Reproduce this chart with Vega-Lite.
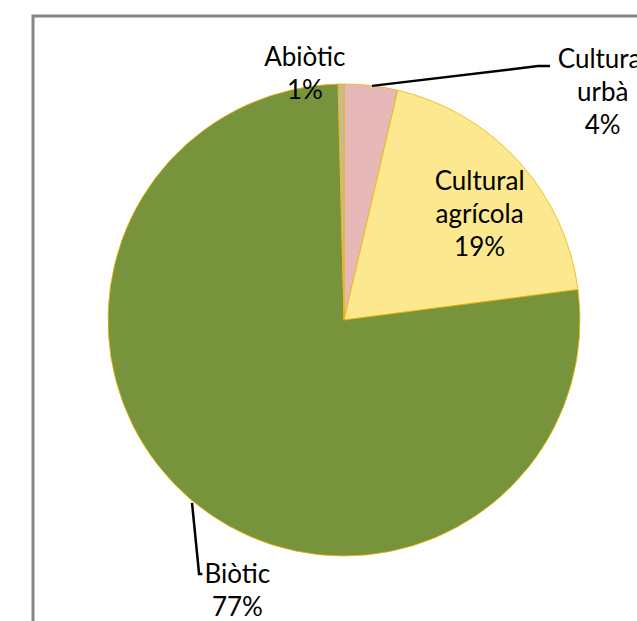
{
  "$schema": "https://vega.github.io/schema/vega-lite/v6.json",
  "width": 622,
  "height": 608,
  "autosize": {"type": "none"},
  "padding": {"left": 33, "top": 16, "right": 0, "bottom": 0},
  "background": "white",
  "config": {
    "view": {"stroke": "#868686", "strokeWidth": 3},
    "text": {"font": "Lato", "fontSize": 26, "color": "#000000"}
  },
  "datasets": {
    "slices": [
      {"cat": "Cultural urbà", "value": 3.66, "order": 1, "label": "Cultural\nurbà\n4%"},
      {"cat": "Cultural agrícola", "value": 19.28, "order": 2, "label": "Cultural\nagrícola\n19%"},
      {"cat": "Biòtic", "value": 76.66, "order": 3, "label": "Biòtic\n77%"},
      {"cat": "Abiòtic", "value": 0.4, "order": 4, "label": "Abiòtic\n1%"}
    ],
    "leaders": [
      {"line": "urba", "i": 1, "px": 0.119, "py": 0.992},
      {"line": "urba", "i": 2, "px": 0.822, "py": 1.076},
      {"line": "urba", "i": 3, "px": 0.873, "py": 1.076},
      {"line": "biotic", "i": 1, "px": -0.644, "py": -0.775},
      {"line": "biotic", "i": 2, "px": -0.614, "py": -1.076},
      {"line": "biotic", "i": 3, "px": -0.600, "py": -1.076}
    ]
  },
  "data": {"name": "slices"},
  "encoding": {
    "theta": {"field": "value", "type": "quantitative", "stack": true, "scale": {"domain": [0, 100]}},
    "order": {"field": "order", "type": "quantitative"}
  },
  "layer": [
    {
      "mark": {"type": "arc", "outerRadius": 236, "stroke": "#F0B400", "strokeWidth": 0.8},
      "encoding": {
        "color": {
          "field": "cat",
          "type": "nominal",
          "scale": {
            "domain": ["Abiòtic", "Cultural urbà", "Cultural agrícola", "Biòtic"],
            "range": ["#C4BC96", "#E6B9B8", "#FBE88F", "#77933C"]
          },
          "legend": null
        }
      }
    },
    {
      "mark": {"type": "text", "radius": 250, "dx": -36, "dy": -12, "lineBreak": "\n", "lineHeight": 33, "baseline": "middle", "align": "center"},
      "encoding": {
        "text": {"condition": {"test": "datum.cat === 'Abiòtic'", "field": "label"}, "value": ""}
      }
    },
    {
      "mark": {"type": "text", "radius": 250, "dx": 230, "dy": -12, "lineBreak": "\n", "lineHeight": 33, "baseline": "middle", "align": "center"},
      "encoding": {
        "text": {"condition": {"test": "datum.cat === 'Cultural urbà'", "field": "label"}, "value": ""}
      }
    },
    {
      "mark": {"type": "text", "radius": 172, "dx": 8, "dy": -23, "lineBreak": "\n", "lineHeight": 33, "baseline": "middle", "align": "center"},
      "encoding": {
        "text": {"condition": {"test": "datum.cat === 'Cultural agrícola'", "field": "label"}, "value": ""}
      }
    },
    {
      "mark": {"type": "text", "radius": 250, "dx": 56, "dy": 65, "lineBreak": "\n", "lineHeight": 33, "baseline": "middle", "align": "center"},
      "encoding": {
        "text": {"condition": {"test": "datum.cat === 'Biòtic'", "field": "label"}, "value": ""}
      }
    },
    {
      "data": {"name": "leaders"},
      "mark": {"type": "line", "color": "#000000", "strokeWidth": 2.5},
      "encoding": {
        "theta": null,
        "order": {"field": "i", "type": "quantitative"},
        "detail": {"field": "line", "type": "nominal"},
        "x": {"field": "px", "type": "quantitative", "axis": null, "scale": {"domain": [-1.3178, 1.3178], "nice": false, "zero": false}},
        "y": {"field": "py", "type": "quantitative", "axis": null, "scale": {"domain": [-1.2881, 1.2881], "nice": false, "zero": false}}
      }
    }
  ]
}
